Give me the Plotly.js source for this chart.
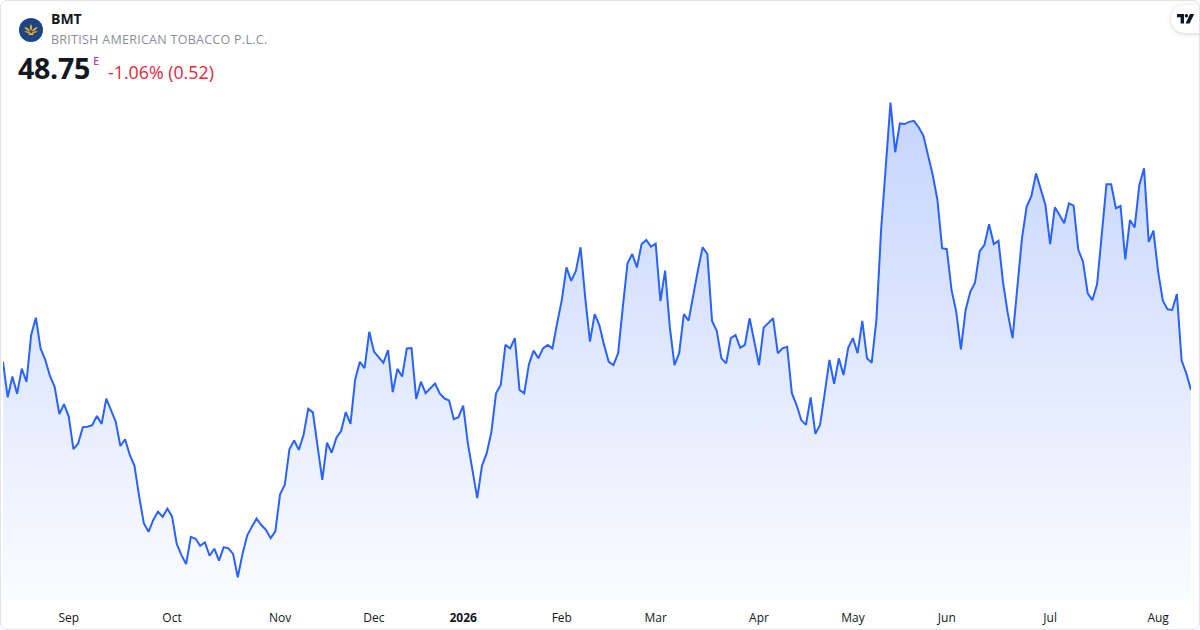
<!DOCTYPE html>
<html>
<head>
<meta charset="utf-8">
<script src="https://cdn.plot.ly/plotly-3.0.1.min.js"></script>
<style>
  html, body { margin: 0; padding: 0; background: #ffffff; }
  #wrap { position: relative; width: 1200px; height: 630px; overflow: hidden; font-family: "Open Sans", "Noto Sans", sans-serif; }
  #chart { position: absolute; left: 0; top: 0; width: 1200px; height: 630px; }
  #frame { position: absolute; left: 0; top: 0; width: 1200px; height: 630px; box-sizing: border-box; border: 1px solid #e0e3eb; border-radius: 7px; pointer-events: none; }
  .t { position: absolute; white-space: nowrap; line-height: 1; }
  #sym { left: 51px; top: 12px; font-size: 14px; font-weight: 700; color: #131722; }
  #name { left: 51px; top: 34px; font-size: 12.5px; color: #8a8d96; letter-spacing: 0.28px; }
  #price { left: 18px; top: 54px; font-size: 28.6px; font-weight: 700; color: #131722; letter-spacing: -0.3px; }
  #ex { left: 93px; top: 55px; font-size: 11px; font-weight: 600; color: #ab47bc; }
  #chg { left: 108px; top: 64px; font-size: 17.8px; color: #e0283a; }
  #logo { position: absolute; left: 19px; top: 18px; width: 24px; height: 24px; }
  #tv { position: absolute; left: 1171px; top: 5px; width: 44px; height: 28px; border-radius: 14px; background: #fff; box-shadow: 0 1px 5px rgba(0,0,0,0.18); }
  #tv svg { position: absolute; left: 6px; top: 9px; }
</style>
</head>
<body>
<div id="wrap">
  <div id="chart"></div>
  <svg id="logo" viewBox="0 0 24 24">
    <circle cx="12" cy="12" r="12" fill="#1d4486"/>
    <path d="M12 6 C10.6 8.3 10.6 10.6 12 13 C13.4 10.6 13.4 8.3 12 6Z" fill="#f5b81c"/>
    <path d="M5.5 9 C6.3 11.5 8.2 12.9 11.3 13.4 C10.2 10.9 8.2 9.5 5.5 9Z" fill="#f5b81c"/>
    <path d="M18.5 9 C17.7 11.5 15.8 12.9 12.7 13.4 C13.8 10.9 15.8 9.5 18.5 9Z" fill="#f5b81c"/>
    <path d="M5 13.6 C7.2 15.1 9.7 15.3 11.6 14.4 C9.7 13.2 7.3 13 5 13.6Z" fill="#eaa519"/>
    <path d="M19 13.6 C16.8 15.1 14.3 15.3 12.4 14.4 C14.3 13.2 16.7 13 19 13.6Z" fill="#eaa519"/>
    <rect x="9.3" y="15.2" width="5.4" height="1.8" rx="0.7" fill="#f5b81c"/>
  </svg>
  <div class="t" id="sym">BMT</div>
  <div class="t" id="name">BRITISH AMERICAN TOBACCO P.L.C.</div>
  <div class="t" id="price">48.75</div>
  <div class="t" id="ex">E</div>
  <div class="t" id="chg">-1.06% (0.52)</div>
  <div id="tv">
    <svg width="18" height="10" viewBox="0 0 18 10">
      <path d="M0 0 H7 V9.5 H3.6 V3.2 H0 Z" fill="#131722"/>
      <circle cx="9.4" cy="1.7" r="1.7" fill="#131722"/>
      <path d="M13 0 H17.2 L12.6 9.5 H8.5 Z" fill="#131722"/>
    </svg>
  </div>
  <div id="frame"></div>
</div>
<script>
// ---- data ----
const startDate = '2025-08-12';
const holidays = ['2025-12-24', '2025-12-25', '2025-12-26', '2025-12-31', '2026-01-01', '2026-04-03', '2026-04-06', '2026-05-01'];

const prices = [
  49.63, 48.52, 49.17, 48.63, 49.42, 49.00, 50.47, 51.01, 50.05, 49.69,
  49.19, 48.85, 48.00, 48.31, 47.92, 46.90, 47.08, 47.59, 47.60, 47.65,
  47.94, 47.69, 48.48, 48.13, 47.76, 47.00, 47.21, 46.72, 46.38, 45.42,
  44.58, 44.32, 44.69, 44.95, 44.79, 45.04, 44.80, 43.94, 43.59, 43.31,
  44.16, 44.10, 43.88, 43.99, 43.57, 43.79, 43.42, 43.84, 43.80, 43.63,
  42.90, 43.62, 44.20, 44.48, 44.73, 44.53, 44.38, 44.12, 44.33, 45.49,
  45.78, 46.90, 47.17, 46.88, 47.34, 48.16, 48.05, 46.98, 45.94, 47.10,
  46.79, 47.26, 47.47, 48.06, 47.69, 49.08, 49.63, 49.43, 50.57, 49.95,
  49.79, 49.60, 50.00, 48.68, 49.41, 49.17, 50.05, 50.06, 48.47, 49.01,
  48.65, 48.80, 48.95, 48.64, 48.49, 48.42, 47.84, 47.90, 48.26, 47.08,
  46.22, 45.37, 46.38, 46.77, 47.43, 48.65, 48.91, 50.16, 50.05, 50.37,
  48.75, 48.65, 49.55, 49.98, 49.74, 50.05, 50.16, 50.05, 50.83, 51.56,
  52.58, 52.16, 52.47, 53.21, 51.62, 50.26, 51.12, 50.78, 50.16, 49.63,
  49.53, 49.90, 51.35, 52.71, 53.00, 52.58, 53.31, 53.44, 53.23, 53.32,
  51.53, 52.48, 50.73, 49.53, 49.90, 51.12, 50.92, 51.77, 52.50, 53.21,
  53.00, 50.91, 50.60, 49.74, 49.58, 50.37, 50.47, 50.07, 50.16, 50.99,
  50.29, 49.53, 50.70, 50.85, 50.99, 49.90, 50.05, 50.10, 48.65, 48.28,
  47.81, 47.66, 48.52, 47.38, 47.66, 48.65, 49.69, 48.94, 49.74, 49.22,
  50.07, 50.37, 49.90, 50.91, 49.74, 49.60, 50.94, 53.75, 55.68, 57.73,
  56.18, 57.08, 57.06, 57.13, 57.16, 56.96, 56.70, 56.09, 55.47, 54.69,
  53.18, 53.15, 51.88, 51.20, 50.02, 51.25, 51.82, 52.10, 53.09, 53.28,
  53.93, 53.31, 53.41, 52.08, 51.13, 50.37, 51.88, 53.49, 54.48, 54.81,
  55.52, 55.03, 54.53, 53.31, 54.46, 54.22, 53.96, 54.58, 54.51, 53.13,
  52.76, 51.77, 51.56, 52.05, 53.59, 55.18, 55.18, 54.43, 54.50, 52.83,
  54.06, 53.83, 55.16, 55.68, 53.38, 53.73, 52.45, 51.54, 51.27, 51.25,
  51.75, 49.67, 49.27, 48.75
];

const tickDates = ['2025-09-01', '2025-10-01', '2025-11-03', '2025-12-01', '2026-01-02', '2026-02-02',
                   '2026-03-02', '2026-04-01', '2026-05-04', '2026-06-01', '2026-07-01', '2026-08-03'];
const tickLabels = ['Sep', 'Oct', 'Nov', 'Dec', '<b>2026</b>', 'Feb', 'Mar', 'Apr', 'May', 'Jun', 'Jul', 'Aug'];

// ---- trading-day calendar (weekdays, exchange holidays skipped) ----
function tradingDates(start, count, skip) {
  const out = [];
  const d = new Date(start + 'T00:00:00Z');
  while (out.length < count) {
    const iso = d.toISOString().slice(0, 10);
    const wd = d.getUTCDay();
    if (wd !== 0 && wd !== 6 && skip.indexOf(iso) < 0) out.push(iso);
    d.setUTCDate(d.getUTCDate() + 1);
  }
  return out;
}
const dates = tradingDates(startDate, prices.length, holidays);

const yMin = 42.1875, yMax = 58.125;

const trace = {
  x: dates,
  y: prices,
  type: 'scatter',
  mode: 'lines',
  line: { color: '#2962ff', width: 2 },
  fill: 'tozeroy',
  fillgradient: {
    type: 'vertical',
    start: yMin,
    stop: Math.max.apply(null, prices),
    colorscale: [[0, 'rgba(41,98,255,0.02)'], [1, 'rgba(41,98,255,0.27)']]
  },
  hoverinfo: 'x+y'
};

const layout = {
  width: 1200,
  height: 630,
  margin: { l: 3, r: 9, t: 90, b: 30 },
  paper_bgcolor: 'rgba(0,0,0,0)',
  plot_bgcolor: 'rgba(0,0,0,0)',
  showlegend: false,
  font: { family: '"Open Sans", "Noto Sans", sans-serif', color: '#131722', size: 12 },
  xaxis: {
    type: 'date',
    range: [dates[0], dates[dates.length - 1]],
    rangebreaks: [{ bounds: ['sat', 'mon'] }, { values: holidays }],
    tickmode: 'array',
    tickvals: tickDates,
    ticktext: tickLabels,
    showgrid: false,
    zeroline: false,
    showline: false,
    ticks: '',
    ticklabelstandoff: 9,
    tickfont: { size: 12, color: '#131722' }
  },
  yaxis: {
    range: [yMin, yMax],
    visible: false,
    showgrid: false,
    zeroline: false
  }
};

Plotly.newPlot('chart', [trace], layout, { displayModeBar: false, staticPlot: true });
</script>
</body>
</html>
